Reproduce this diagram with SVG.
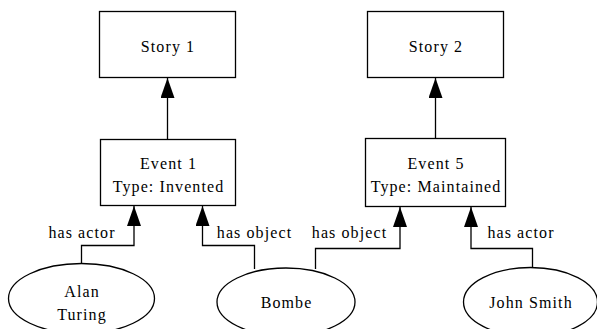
<svg xmlns="http://www.w3.org/2000/svg" width="597" height="329" viewBox="0 0 597 329">
<style>
.n{fill:#fff;stroke:#000;stroke-width:1.3}
.t{font-family:"Liberation Serif","Times New Roman",serif;font-size:16px;letter-spacing:1.1px;fill:#000;text-anchor:middle}
.e{fill:none;stroke:#000;stroke-width:1.3}
</style>
<defs>
<marker id="ah" markerWidth="20" markerHeight="14" refX="20" refY="7" orient="auto" markerUnits="userSpaceOnUse" viewBox="0 0 20 14">
<path d="M0,0 L20,7 L0,14 Z" fill="#000"/>
</marker>
</defs>
<rect width="597" height="329" fill="#fff"/>
<g id="connectors">
<path class="e" d="M167.5,139 V78" marker-end="url(#ah)"/>
<path class="e" d="M435.5,138.5 V78" marker-end="url(#ah)"/>
<path class="e" d="M81.5,264 V245.5 H134 V206" marker-end="url(#ah)"/>
<path class="e" d="M254.5,269 V245.5 H202.5 V206" marker-end="url(#ah)"/>
<path class="e" d="M315.5,269 V248.5 H400 V207" marker-end="url(#ah)"/>
<path class="e" d="M532.5,268 V248.5 H471 V207" marker-end="url(#ah)"/>
<text class="t" x="82" y="238">has actor</text>
<text class="t" x="254.5" y="238">has object</text>
<text class="t" x="349.5" y="238">has object</text>
<text class="t" x="521" y="238">has actor</text>
</g>
<g id="story1">
<rect class="n" x="99.5" y="11.5" width="136" height="66"/>
<text class="t" x="168" y="52">Story 1</text>
</g>
<g id="story2">
<rect class="n" x="367.5" y="11.5" width="136" height="66"/>
<text class="t" x="436" y="52">Story 2</text>
</g>
<g id="event1">
<rect class="n" x="100.5" y="139.5" width="135" height="66"/>
<text class="t" x="168.5" y="169">Event 1</text>
<text class="t" x="168.5" y="191.5">Type: Invented</text>
</g>
<g id="event5">
<rect class="n" x="365.5" y="138.5" width="140" height="68"/>
<text class="t" x="436" y="169">Event 5</text>
<text class="t" x="436" y="191.5">Type: Maintained</text>
</g>
<g id="alan">
<ellipse class="n" cx="81.5" cy="298.5" rx="73" ry="35"/>
<text class="t" x="82" y="297">Alan</text>
<text class="t" x="82" y="320">Turing</text>
</g>
<g id="bombe">
<ellipse class="n" cx="286" cy="302" rx="69" ry="34"/>
<text class="t" x="286.5" y="308">Bombe</text>
</g>
<g id="john">
<ellipse class="n" cx="530.5" cy="302" rx="67" ry="34.5"/>
<text class="t" x="531" y="308">John Smith</text>
</g>
</svg>
